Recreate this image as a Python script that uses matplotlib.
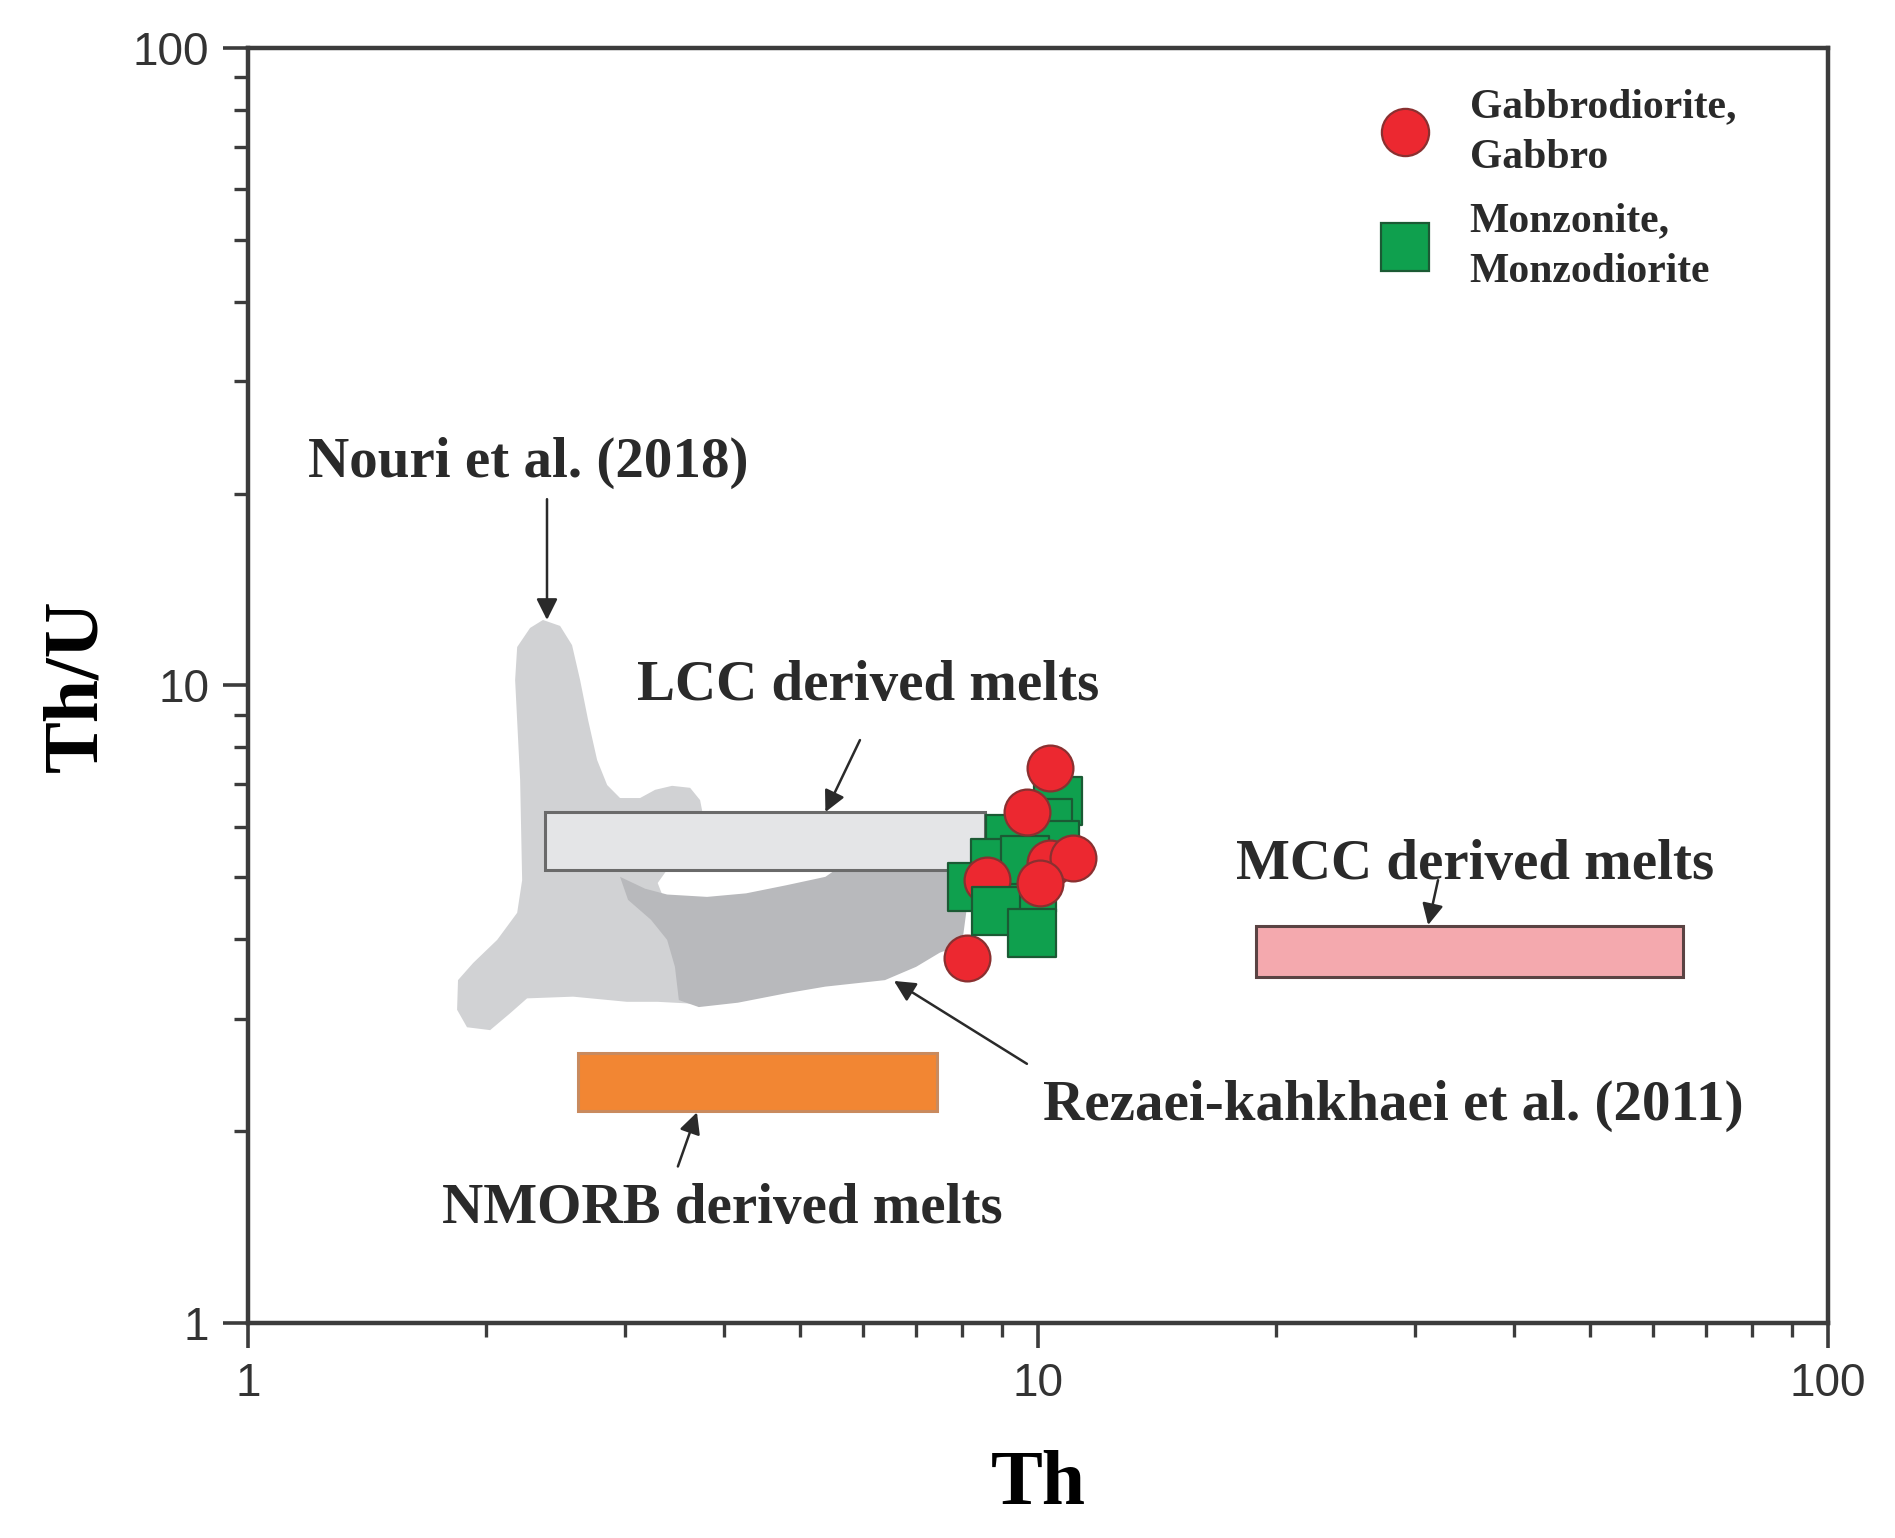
import matplotlib
matplotlib.use("Agg")
import matplotlib.pyplot as plt
from matplotlib.patches import Polygon, Rectangle
from matplotlib.lines import Line2D

# ---------------- data ----------------
# Gabbrodiorite, Gabbro (red circles)
gabbro_th = [8.13, 8.62, 10.36, 9.68, 10.36, 11.07, 10.06]
gabbro_thu = [3.74, 4.95, 7.42, 6.33, 5.27, 5.36, 4.90]

# Monzonite, Monzodiorite (green squares)
monzo_th = [10.60, 10.30, 9.22, 8.82, 8.25, 9.83, 10.51, 9.63, 8.85, 9.83]
monzo_thu = [6.59, 6.09, 5.74, 5.27, 4.83, 4.81, 5.62, 5.32, 4.43, 4.09]

# Nouri et al. (2018) field
nouri_th = [2.362, 2.483, 2.571, 2.632, 2.694, 2.766, 2.848, 2.957, 3.135, 3.275,
            3.441, 3.627, 3.734, 3.766, 3.766, 3.392, 3.30, 3.44, 3.70, 3.63,
            3.30, 3.017, 2.579, 2.255, 2.146, 2.025, 1.893, 1.839, 1.844, 1.927,
            2.067, 2.191, 2.223, 2.210, 2.178, 2.191, 2.275]
nouri_thu = [12.67, 12.40, 11.57, 10.20, 8.83, 7.64, 6.98, 6.66, 6.66, 6.86,
             6.96, 6.91, 6.61, 6.26, 5.25, 5.14, 4.90, 4.29, 3.22, 3.17,
             3.19, 3.19, 3.25, 3.23, 3.06, 2.88, 2.91, 3.10, 3.45, 3.67,
             3.99, 4.40, 4.95, 7.11, 10.20, 11.49, 12.31]

# Rezaei-kahkhaei et al. (2011) field
rezaei_th = [2.957, 3.181, 3.392, 3.811, 4.27, 4.80, 5.38, 5.63, 6.69, 8.08,
             8.15, 8.01, 7.51, 7.01, 6.40, 5.38, 4.80, 4.17, 3.72, 3.51,
             3.47, 3.392, 3.236, 3.027]
rezaei_thu = [5.01, 4.80, 4.70, 4.66, 4.72, 4.86, 5.01, 5.21, 5.32, 5.32,
              4.61, 3.92, 3.81, 3.62, 3.45, 3.37, 3.29, 3.18, 3.13, 3.21,
              3.62, 3.99, 4.29, 4.61]

# derived-melt ranges: (Th min, Th max, Th/U min, Th/U max)
lcc_range = (2.376, 8.57, 5.14, 6.33)
mcc_range = (18.88, 65.53, 3.49, 4.19)
nmorb_range = (2.617, 7.45, 2.15, 2.65)

# ---------------- figure ----------------
SERIF = ["Liberation Serif", "DejaVu Serif"]
SANS = ["Liberation Sans", "DejaVu Sans"]

fig = plt.figure(figsize=(18.95, 15.38), dpi=100)
ax = fig.add_axes([0.1309, 0.1398, 0.8338, 0.8290])
ax.set_xscale("log")
ax.set_yscale("log")
ax.set_xlim(1, 100)
ax.set_ylim(1, 100)

ax.add_patch(Polygon(list(zip(nouri_th, nouri_thu)), closed=True,
                     facecolor="#d1d2d4", edgecolor="none", zorder=1))
ax.add_patch(Polygon(list(zip(rezaei_th, rezaei_thu)), closed=True,
                     facecolor="#b8b9bc", edgecolor="none", zorder=1.5))


def box(r, fc, ec):
    ax.add_patch(Rectangle((r[0], r[2]), r[1] - r[0], r[3] - r[2],
                           facecolor=fc, edgecolor=ec, linewidth=2.2, zorder=2))


box(lcc_range, "#e4e5e7", "#6a6a6a")
box(mcc_range, "#f4a9ae", "#5a4343")
box(nmorb_range, "#f28633", "#c98a5e")

circ_kw = dict(marker="o", s=33 ** 2, facecolor="#ec2830", edgecolor="#8a3030", linewidths=1.6)
sq_kw = dict(marker="s", s=34 ** 2, facecolor="#0fa04e", edgecolor="#1b5a34", linewidths=1.6)
# drawing order mimics the overlaps of the original plot
ax.scatter(gabbro_th[:1], gabbro_thu[:1], zorder=3, **circ_kw)
ax.scatter(monzo_th[:8], monzo_thu[:8], zorder=4, **sq_kw)
ax.scatter(gabbro_th[1:2], gabbro_thu[1:2], zorder=5, **circ_kw)
ax.scatter(monzo_th[8:], monzo_thu[8:], zorder=6, **sq_kw)
ax.scatter(gabbro_th[2:], gabbro_thu[2:], zorder=7, **circ_kw)

# annotations
afont = dict(family=SERIF, fontweight="bold", fontsize=41, color="#2a2a2a")
arrow = dict(arrowstyle="-|>", color="#2a2a2a", lw=1.8, mutation_scale=32, shrinkA=0, shrinkB=0)
ax.text(2.262, 22.34, "Nouri et al. (2018)", ha="center", va="center", **afont)
ax.annotate("", xy=(2.39, 12.67), xytext=(2.39, 19.6), arrowprops=arrow, zorder=8)
ax.text(6.09, 9.98, "LCC derived melts", ha="center", va="center", **afont)
ax.annotate("", xy=(5.38, 6.33), xytext=(5.95, 8.21), arrowprops=arrow, zorder=8)
ax.text(35.74, 5.23, "MCC derived melts", ha="center", va="center", **afont)
ax.annotate("", xy=(31.17, 4.21), xytext=(32.08, 4.95), arrowprops=arrow, zorder=8)
ax.text(3.98, 1.51, "NMORB derived melts", ha="center", va="center", **afont)
ax.annotate("", xy=(3.70, 2.14), xytext=(3.50, 1.76), arrowprops=arrow, zorder=8)
ax.text(28.14, 2.19, "Rezaei-kahkhaei et al. (2011)", ha="center", va="center", **afont)
ax.annotate("", xy=(6.57, 3.44), xytext=(9.68, 2.55), arrowprops=arrow, zorder=8)

# legend
handles = [
    Line2D([], [], linestyle="none", marker="o", markersize=34, markerfacecolor="#ec2830",
           markeredgecolor="#8a3030", markeredgewidth=1.6),
    Line2D([], [], linestyle="none", marker="s", markersize=34, markerfacecolor="#0fa04e",
           markeredgecolor="#1b5a34", markeredgewidth=1.6),
]
leg = ax.legend(handles, ["Gabbrodiorite,\nGabbro", "Monzonite,\nMonzodiorite"],
                loc="upper left", bbox_to_anchor=(0.690, 0.998), frameon=False,
                prop=dict(family=SERIF, weight="bold", size=30),
                handletextpad=0.85, labelspacing=0.6, handlelength=1.4, labelcolor="#2a2a2a")
for t in leg.get_texts():
    t.set_linespacing(1.45)

# axes styling
for sp in ax.spines.values():
    sp.set_linewidth(3.2)
    sp.set_color("#3c3c3c")
ax.tick_params(which="major", direction="out", length=18, width=2.6, color="#3c3c3c",
               labelsize=33, labelcolor="#333333", pad=10, top=False, right=False)
ax.tick_params(which="minor", direction="out", length=10, width=2.4, color="#3c3c3c",
               top=False, right=False)
ax.set_xticks([1, 10, 100])
ax.set_xticklabels(["1", "10", "100"])
ax.set_yticks([1, 10, 100])
ax.set_yticklabels(["1", "10", "100"])
for lab in ax.get_xticklabels() + ax.get_yticklabels():
    lab.set_family(SANS)

ax.set_xlabel("Th", family=SERIF, fontweight="bold", fontsize=56, labelpad=32)
ax.set_ylabel("Th/U", family=SERIF, fontweight="bold", fontsize=56, labelpad=14)

fig.savefig("out.png", dpi=100, facecolor="white")
